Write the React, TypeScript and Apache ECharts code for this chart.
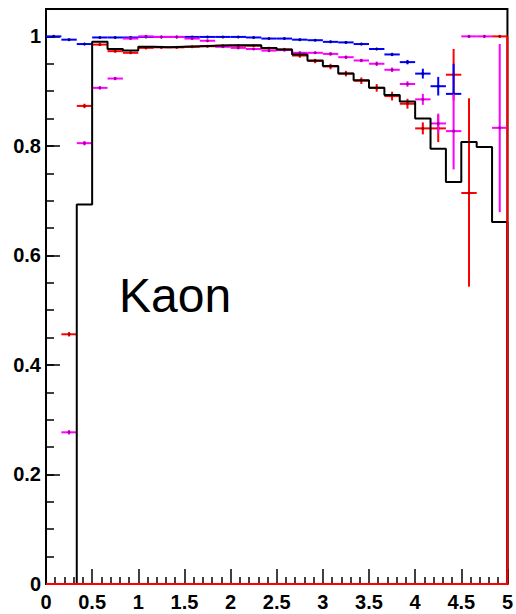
import React, { useEffect, useRef } from "react";
import * as echarts from "echarts";

// Histogram binning: 30 bins over 0..5
const X_MIN = 0;
const X_MAX = 5;
const BIN_COUNT = 30;

// Axis ticks
const X_TICK_STEP = 0.5;
const Y_MAX = 1.05;
const Y_TICK_STEP = 0.2;
const Y_MINOR_STEP = 0.05;

// Reference efficiency (black step histogram)
const blackHist = [
  0, 0, 0.693, 0.99, 0.977, 0.974, 0.981, 0.98, 0.981, 0.982,
  0.983, 0.984, 0.984, 0.984, 0.979, 0.976, 0.967, 0.956, 0.946, 0.932,
  0.92, 0.906, 0.893, 0.881, 0.85, 0.795, 0.734, 0.807, 0.798, 0.661,
];

// Red points
const redVals = [
  null, 0.456, 0.873, 0.985, 0.973, 0.97, 0.979, 0.98, 0.98, 0.981,
  0.982, 0.983, 0.983, 0.983, 0.978, 0.976, 0.965, 0.955, 0.945, 0.932,
  0.919, 0.906, 0.891, 0.877, 0.832, 0.832, 0.93, 0.714, null, 1.0,
];
const redErrDown = [
  0, 0.004, 0.004, 0.002, 0.002, 0.002, 0.002, 0.002, 0.002, 0.002,
  0.002, 0.002, 0.002, 0.002, 0.003, 0.003, 0.004, 0.004, 0.005, 0.005,
  0.006, 0.007, 0.008, 0.009, 0.011, 0.025, 0.047, 0.171, 0, 0,
];
const redErrUp = [
  0, 0.004, 0.004, 0.002, 0.002, 0.002, 0.002, 0.002, 0.002, 0.002,
  0.002, 0.002, 0.002, 0.002, 0.003, 0.003, 0.004, 0.004, 0.005, 0.005,
  0.006, 0.007, 0.008, 0.009, 0.011, 0.025, 0.047, 0.173, 0, 0,
];

// Blue points
const blueVals = [
  1.0, 0.994, 0.986, 0.998, 0.998, 0.998, 0.999, 0.999, 0.999, 0.999,
  0.999, 0.999, 0.999, 0.998, 0.996, 0.996, 0.994, 0.993, 0.99, 0.989,
  0.986, 0.977, 0.967, 0.953, 0.932, 0.909, 0.895, null, null, null,
];
const blueErrDown = [
  0, 0.001, 0.002, 0.001, 0.001, 0.001, 0.001, 0.001, 0.001, 0.001,
  0.001, 0.001, 0.001, 0.001, 0.001, 0.001, 0.001, 0.001, 0.002, 0.002,
  0.002, 0.002, 0.003, 0.004, 0.009, 0.017, 0, 0, 0, 0,
];
const blueErrUp = [
  0, 0.001, 0.002, 0.001, 0.001, 0.001, 0.001, 0.001, 0.001, 0.001,
  0.001, 0.001, 0.001, 0.001, 0.001, 0.001, 0.001, 0.001, 0.002, 0.002,
  0.002, 0.002, 0.003, 0.004, 0.009, 0.017, 0.055, 0, 0, 0,
];

// Magenta points
const magentaVals = [
  null, 0.277, 0.805, 0.906, 0.923, 0.996, 1.0, 0.999, 0.999, 0.996,
  0.992, 0.981, 0.979, 0.977, 0.974, 0.975, 0.97, 0.97, 0.968, 0.962,
  0.956, 0.95, 0.939, 0.913, 0.885, 0.841, 0.827, 1.0, 1.0, 0.833,
];
const magentaErrDown = [
  0, 0.004, 0.004, 0.003, 0.003, 0.001, 0, 0.001, 0.001, 0.001,
  0.001, 0.001, 0.001, 0.001, 0.002, 0.002, 0.002, 0.002, 0.003, 0.003,
  0.003, 0.004, 0.004, 0.005, 0.01, 0.018, 0.07, 0, 0, 0.154,
];
const magentaErrUp = [
  0, 0.004, 0.004, 0.003, 0.003, 0.001, 0, 0.001, 0.001, 0.001,
  0.001, 0.001, 0.001, 0.001, 0.002, 0.002, 0.002, 0.002, 0.003, 0.003,
  0.003, 0.004, 0.004, 0.005, 0.01, 0.018, 0.068, 0, 0, 0.153,
];

// Red outline drawn along the bottom and the right edge
const redOutline = [
  [0, 0],
  [5, 0],
  [5, 1],
];

const LABEL = "Kaon";

const binWidth = (X_MAX - X_MIN) / BIN_COUNT;

function stepData(vals: number[]) {
  const pts: number[][] = [[X_MIN, 0]];
  vals.forEach((v, i) => {
    const lo = X_MIN + i * binWidth;
    pts.push([lo, v], [lo + binWidth, v]);
  });
  pts.push([X_MAX, 0]);
  return pts;
}

function barData(vals: (number | null)[], down: number[], up: number[]) {
  const out: number[][] = [];
  vals.forEach((v, i) => {
    if (v === null) return;
    const c = X_MIN + (i + 0.5) * binWidth;
    out.push([c, v, v - down[i], v + up[i]]);
  });
  return out;
}

function errorSeries(name: string, data: number[][], color: string, dot: string) {
  return {
    type: "custom",
    name,
    data,
    clip: false,
    encode: { x: 0, y: 1 },
    renderItem: (_params: any, api: any) => {
      const x = api.value(0);
      const v = api.value(1);
      const lo = api.value(2);
      const hi = api.value(3);
      const l = api.coord([x - binWidth / 2, v]);
      const r = api.coord([x + binWidth / 2, v]);
      const t = api.coord([x, hi]);
      const b = api.coord([x, lo]);
      const c = api.coord([x, v]);
      return {
        type: "group",
        children: [
          {
            type: "line",
            shape: { x1: l[0], y1: l[1], x2: r[0], y2: r[1] },
            style: { stroke: color, lineWidth: 2 },
          },
          {
            type: "line",
            shape: { x1: t[0], y1: t[1], x2: b[0], y2: b[1] },
            style: { stroke: color, lineWidth: 2 },
          },
          {
            type: "circle",
            shape: { cx: c[0], cy: c[1], r: 1.5 },
            style: { fill: dot },
          },
        ],
      };
    },
  };
}

const FONT = "'Liberation Sans', Arial, Helvetica, sans-serif";

export default function App() {
  const ref = useRef<HTMLDivElement>(null);

  useEffect(() => {
    if (!ref.current) return;
    const chart = echarts.init(ref.current, null, { renderer: "svg" });
    const tickStyle = { color: "#000", width: 1.5 };
    chart.setOption({
      animation: false,
      backgroundColor: "#fff",
      grid: {
        left: 46,
        right: 8,
        top: 9,
        bottom: 30,
        show: true,
        borderColor: "#000",
        borderWidth: 2,
        backgroundColor: "transparent",
      },
      xAxis: {
        type: "value",
        min: X_MIN,
        max: X_MAX,
        interval: X_TICK_STEP,
        axisLine: { show: true, onZero: false, lineStyle: { color: "#000", width: 2 } },
        axisTick: { show: true, inside: true, length: 15, lineStyle: tickStyle },
        minorTick: { show: true, splitNumber: 5, length: 7, lineStyle: tickStyle },
        splitLine: { show: false },
        minorSplitLine: { show: false },
        axisLabel: {
          color: "#000",
          fontWeight: "bold",
          fontSize: 20,
          fontFamily: FONT,
          margin: 8,
        },
      },
      yAxis: [
        {
          type: "value",
          min: 0,
          max: Y_MAX,
          interval: Y_TICK_STEP,
          position: "left",
          axisLine: { show: true, onZero: false, lineStyle: { color: "#000", width: 2 } },
          axisTick: { show: true, inside: true, length: 14, lineStyle: tickStyle },
          splitLine: { show: false },
          axisLabel: {
            color: "#000",
            fontWeight: "bold",
            fontSize: 20,
            fontFamily: FONT,
            margin: 5,
            showMaxLabel: false,
            formatter: (v: number) => (Math.abs(v / Y_TICK_STEP - Math.round(v / Y_TICK_STEP)) < 1e-6 ? String(+v.toFixed(2)) : ""),
          },
        },
        {
          type: "value",
          min: 0,
          max: Y_MAX,
          interval: Y_MINOR_STEP,
          position: "left",
          axisLine: { show: false },
          axisTick: { show: true, inside: true, length: 8, lineStyle: tickStyle },
          axisLabel: { show: false },
          splitLine: { show: false },
        },
      ],
      graphic: [
        {
          type: "text",
          x: 119,
          y: 295,
          style: {
            text: LABEL,
            fontSize: 48,
            fontFamily: FONT,
            fill: "#000",
            verticalAlign: "middle",
          },
        },
      ],
      series: [
        {
          type: "line",
          name: "reference",
          data: stepData(blackHist),
          symbol: "none",
          clip: false,
          lineStyle: { color: "#000", width: 2 },
        },
        errorSeries("red", barData(redVals, redErrDown, redErrUp), "#ff0000", "#b00000"),
        errorSeries("blue", barData(blueVals, blueErrDown, blueErrUp), "#0000ff", "#000090"),
        errorSeries("magenta", barData(magentaVals, magentaErrDown, magentaErrUp), "#ff00ff", "#a000a0"),
        {
          type: "line",
          name: "outline",
          data: redOutline,
          symbol: "none",
          clip: false,
          lineStyle: { color: "#ff0000", width: 2 },
        },
      ],
    });
    return () => chart.dispose();
  }, []);

  return (
    <div
      ref={ref}
      style={{ position: "fixed", left: 0, top: 0, width: 516, height: 614 }}
    />
  );
}
